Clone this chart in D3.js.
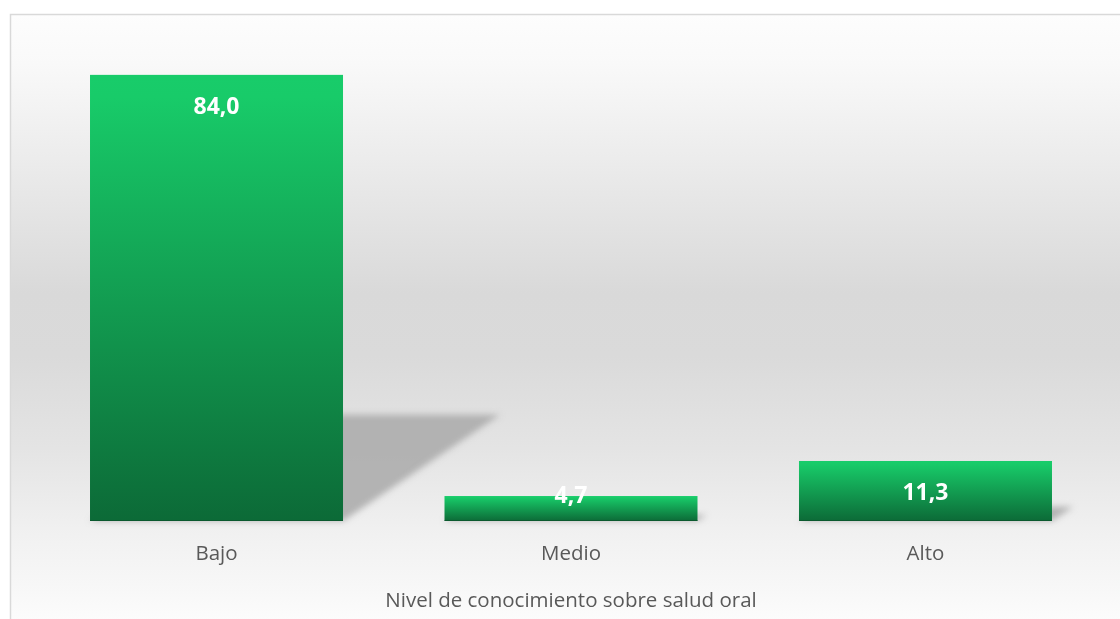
<!DOCTYPE html>
<html>
<head>
<meta charset="utf-8">
<script src="https://cdn.jsdelivr.net/npm/d3@7"></script>
<style>
  html, body { margin: 0; padding: 0; background: #ffffff; }
  svg { display: block; }
</style>
</head>
<body>
<svg id="chart" width="1120" height="619"></svg>
<script>
const categories = ["Bajo", "Medio", "Alto"];
const values = [84.0, 4.7, 11.3];
const valueLabels = ["84,0", "4,7", "11,3"];
const axisTitle = "Nivel de conocimiento sobre salud oral";
const yDomain = [0, 90];

const svg = d3.select("#chart");
const defs = svg.append("defs");

// background gradient
const bg = defs.append("linearGradient").attr("id", "bgGrad")
  .attr("x1", 0).attr("y1", 0).attr("x2", 0).attr("y2", 1);
[[0, "#fdfdfd"], [0.08, "#f9f9f9"], [0.22, "#ededed"], [0.45, "#d9d9d9"], [0.55, "#dadada"],
 [0.70, "#e4e4e4"], [0.84, "#f1f1f1"], [0.92, "#f7f7f7"], [1, "#fefefe"]]
  .forEach(([o, c]) => bg.append("stop").attr("offset", o).attr("stop-color", c));

// bar gradient
const bar = defs.append("linearGradient").attr("id", "barGrad")
  .attr("x1", 0).attr("y1", 0).attr("x2", 0).attr("y2", 1);
[[0, "#18cc6a"], [0.05, "#18cb69"], [1, "#0c6a37"]]
  .forEach(([o, c]) => bar.append("stop").attr("offset", o).attr("stop-color", c));

const blur = defs.append("filter").attr("id", "blur")
  .attr("x", "-20%").attr("y", "-20%").attr("width", "140%").attr("height", "140%");
blur.append("feGaussianBlur").attr("stdDeviation", 3);

// chart area
svg.append("rect")
  .attr("x", 10.5).attr("y", 14.5).attr("width", 1120).attr("height", 620)
  .attr("fill", "url(#bgGrad)").attr("stroke", "#d9d9d9").attr("stroke-width", 1.5);

const x = d3.scaleBand().domain(categories).range([39.25, 1102.75])
  .paddingInner(0.2863).paddingOuter(0.1432);
const y = d3.scaleLinear().domain(yDomain).range([521, 43]);

const data = categories.map((c, i) => ({ c, v: values[i], label: valueLabels[i] }));

// shadows
const kx = 0.352, ky = 0.238;
svg.append("g").attr("filter", "url(#blur)")
  .selectAll("polygon").data(data).join("polygon")
  .attr("points", d => {
    const x0 = x(d.c), x1 = x(d.c) + x.bandwidth();
    const h = y(0) - y(d.v);
    const b = y(0);
    return [[x0, b], [x1, b], [x1 + kx * h, b - ky * h], [x0 + kx * h, b - ky * h]].map(p => p.join(",")).join(" ");
  })
  .attr("fill", "#a9a9a9").attr("opacity", 0.85);

// bars
svg.append("g").selectAll("rect").data(data).join("rect")
  .attr("x", d => x(d.c)).attr("width", x.bandwidth())
  .attr("y", d => y(d.v)).attr("height", d => y(0) - y(d.v))
  .attr("fill", "url(#barGrad)");

// bottom dark edge on bars
svg.append("g").selectAll("rect").data(data).join("rect")
  .attr("x", d => x(d.c)).attr("width", x.bandwidth())
  .attr("y", y(0) - 1).attr("height", 1)
  .attr("fill", "#0a4d28").attr("opacity", 0.6);

// value labels
svg.append("g").selectAll("text").data(data).join("text")
  .attr("x", d => x(d.c) + x.bandwidth() / 2)
  .attr("y", d => Math.min(y(d.v) + 31, y(0) - 26))
  .attr("dy", "0.35em")
  .attr("text-anchor", "middle")
  .attr("font-family", "'Open Sans', sans-serif")
  .attr("font-weight", 700)
  .attr("font-size", 23)
  .attr("fill", "#ffffff")
  .text(d => d.label);

// category axis labels
svg.append("g").selectAll("text").data(data).join("text")
  .attr("x", d => x(d.c) + x.bandwidth() / 2)
  .attr("y", 553)
  .attr("dy", "0.35em")
  .attr("text-anchor", "middle")
  .attr("font-family", "'Open Sans', sans-serif")
  .attr("font-size", 20.5)
  .attr("fill", "#595959")
  .text(d => d.c);

// axis title
svg.append("text")
  .attr("x", x.range()[0] + (x.range()[1] - x.range()[0]) / 2)
  .attr("y", 600)
  .attr("dy", "0.35em")
  .attr("text-anchor", "middle")
  .attr("font-family", "'Open Sans', sans-serif")
  .attr("font-size", 20.5)
  .attr("fill", "#595959")
  .text(axisTitle);
</script>
</body>
</html>
